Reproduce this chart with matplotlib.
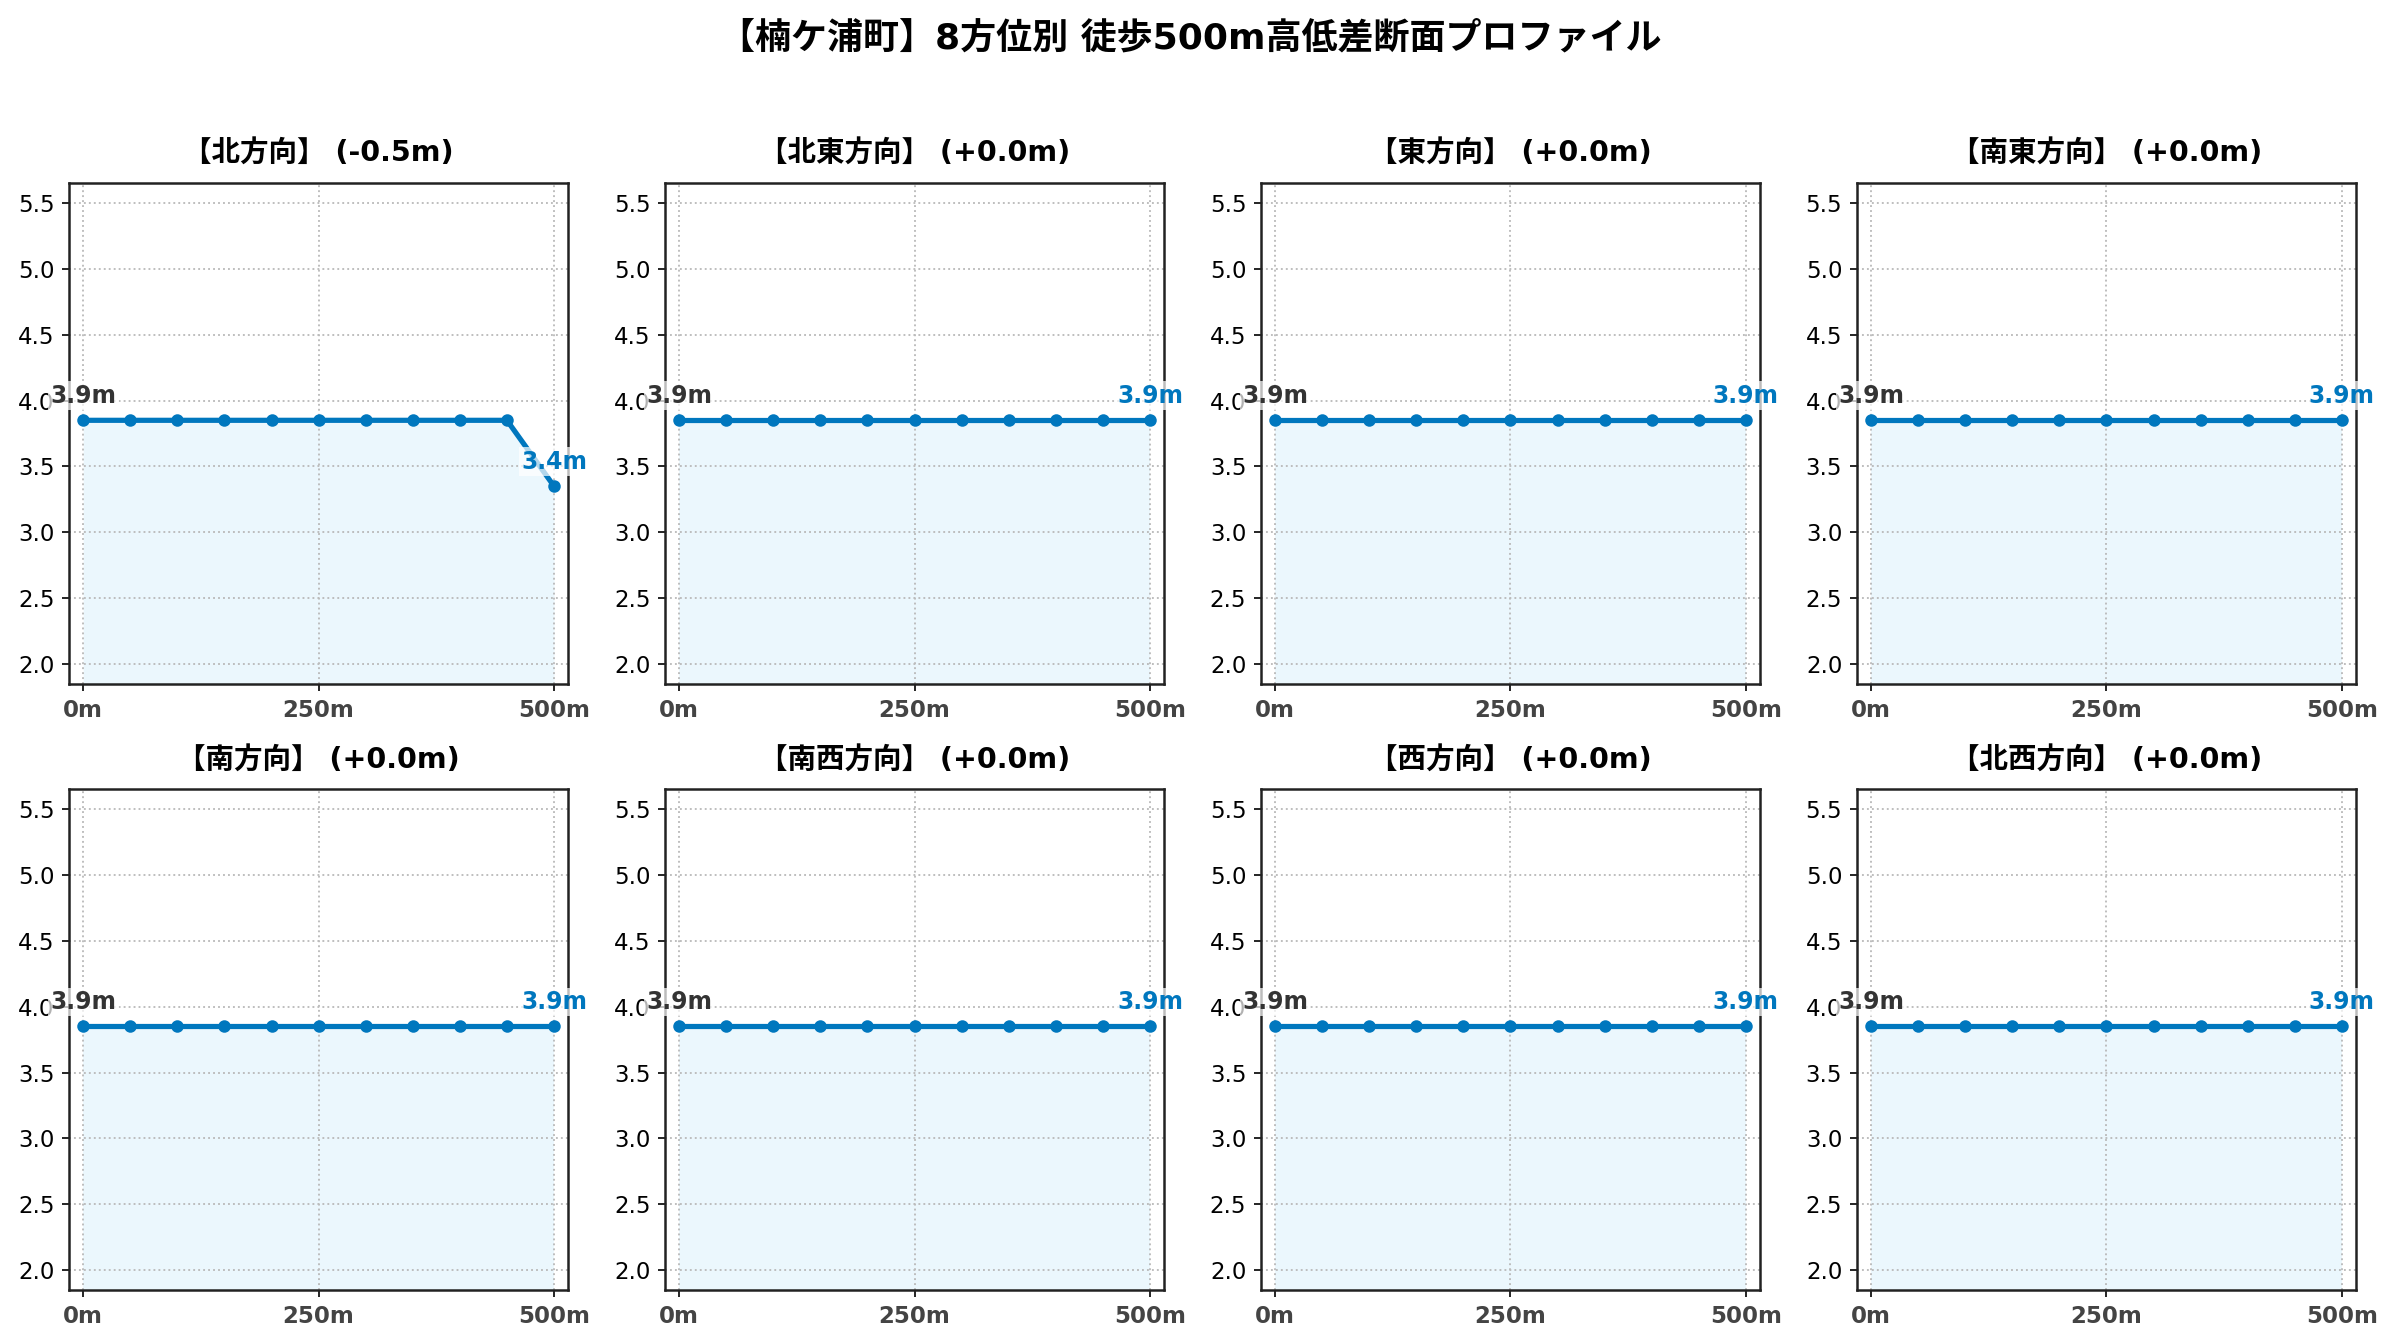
import matplotlib

matplotlib.use("Agg")
import matplotlib.pyplot as plt  # noqa: E402
import numpy as np  # noqa: E402

plt.rcParams["font.family"] = ["DejaVu Sans", "Noto Sans CJK JP"]

TOWN = "楠ケ浦町"
DIRECTIONS = ["北", "北東", "東", "南東", "南", "南西", "西", "北西"]
DIST_M = [0, 50, 100, 150, 200, 250, 300, 350, 400, 450, 500]
ELEV = {
    "北": [3.85, 3.85, 3.85, 3.85, 3.85, 3.85, 3.85, 3.85, 3.85, 3.85, 3.35],
    "北東": [3.85] * 11,
    "東": [3.85] * 11,
    "南東": [3.85] * 11,
    "南": [3.85] * 11,
    "南西": [3.85] * 11,
    "西": [3.85] * 11,
    "北西": [3.85] * 11,
}
XTICKS = [0, 250, 500]
XTICK_LABELS = ["0m", "250m", "500m"]

LINE = "#0077be"
FILL = "#ebf7fd"

all_vals = np.concatenate([np.asarray(v, dtype=float) for v in ELEV.values()])
y_lo = all_vals.min() - 1.5
y_hi = all_vals.max() + 1.8

fig, axes = plt.subplots(2, 4, figsize=(2381 / 150, 1340 / 150), dpi=150)
fig.subplots_adjust(left=0.029, right=0.9895, top=0.8634, bottom=0.0373,
                    wspace=0.194, hspace=0.21)

for ax, d in zip(axes.ravel(), DIRECTIONS):
    x = np.asarray(DIST_M, dtype=float)
    y = np.asarray(ELEV[d], dtype=float)
    diff = y[-1] - y[0]
    ax.fill_between(x, y_lo, y, color=FILL, linewidth=0, zorder=0.5)
    ax.plot(x, y, color=LINE, linewidth=2.5, marker="o", markersize=5)
    ax.set_ylim(y_lo, y_hi)
    ax.margins(x=0.03)
    ax.set_xticks(XTICKS)
    ax.set_xticklabels(XTICK_LABELS, fontweight="bold", color="#444444")
    ax.tick_params(axis="both", labelsize=11)
    ax.grid(True, linestyle=":", color="#bbbbbb", linewidth=0.9)
    for sp in ax.spines.values():
        sp.set_linewidth(1.2)
        sp.set_color("#222222")
    ax.set_title(f"【{d}方向】 ({diff:+.1f}m)", fontsize=13.7,
                 fontweight="bold", pad=10)
    bbox = dict(boxstyle="square,pad=0.1", fc="white", ec="none", alpha=0.7)
    ax.annotate(f"{y[0]:.1f}m", (x[0], y[0]), xytext=(0, 6),
                textcoords="offset points", ha="center", va="bottom",
                fontsize=11.3, fontweight="bold", color="#333333", bbox=bbox)
    ax.annotate(f"{y[-1]:.1f}m", (x[-1], y[-1]), xytext=(0, 6),
                textcoords="offset points", ha="center", va="bottom",
                fontsize=11.3, fontweight="bold", color=LINE, bbox=bbox)

fig.suptitle(f"【{TOWN}】8方位別 徒歩500m高低差断面プロファイル",
             fontsize=17.3, fontweight="bold", y=0.984)

fig.savefig("out.png", dpi=150, facecolor="white")
